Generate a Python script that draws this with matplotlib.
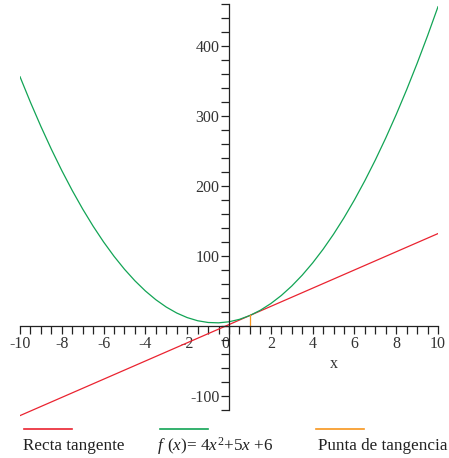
import numpy as np
import matplotlib
matplotlib.use("Agg")
import matplotlib.pyplot as plt
from matplotlib.lines import Line2D
from matplotlib.ticker import MultipleLocator

plt.rcParams['font.family'] = ['Liberation Serif', 'DejaVu Serif']
plt.rcParams['mathtext.fontset'] = 'custom'
plt.rcParams['mathtext.rm'] = 'Liberation Serif'
plt.rcParams['mathtext.it'] = 'Liberation Serif:italic'
plt.rcParams['axes.unicode_minus'] = False

# datos
x_curva = np.arange(-10, 10.5, 0.5)
y_curva = [356, 319.5, 285, 252.5, 222, 193.5, 167, 142.5, 120, 99.5,
           81, 64.5, 50, 37.5, 27, 18.5, 12, 7.5, 5, 4.5,
           6, 9.5, 15, 22.5, 32, 43.5, 57, 72.5, 90, 109.5,
           131, 154.5, 180, 207.5, 237, 268.5, 302, 337.5, 375, 414.5, 456]
x_recta = [-10, 10]
y_recta = [-128, 132]
x_punto = [1, 1]
y_punto = [0, 15]

etiquetas = ["Recta tangente", r"$f\;\,(x)$= 4$x^2$+5$x$ +6", "Punta de tangencia"]
rojo, verde, naranja = '#ea2330', '#12a455', '#f7961e'

fig = plt.figure(figsize=(4.49, 4.58), dpi=100)
ax = fig.add_axes([20/449, 0.0895, 418/449, 0.905])

ax.plot(x_recta, y_recta, color=rojo, lw=0.9)
ax.plot(x_curva, y_curva, color=verde, lw=0.9)
ax.plot(x_punto, y_punto, color=naranja, lw=0.9)

ax.set_xlim(-10, 10)
ax.set_ylim(-130, 462)

# ejes estilo Maple
for s in ['top', 'right']:
    ax.spines[s].set_visible(False)
ax.spines['left'].set_position(('data', 0))
ax.spines['bottom'].set_position(('data', 0))
ax.spines['left'].set_bounds(-120, 460)
ax.spines['bottom'].set_bounds(-10, 10)
for s in ['left', 'bottom']:
    ax.spines[s].set_linewidth(0.9)
    ax.spines[s].set_color('#222222')

ax.xaxis.set_major_locator(MultipleLocator(2))
ax.xaxis.set_minor_locator(MultipleLocator(0.5))
ax.yaxis.set_major_locator(MultipleLocator(100))
ax.yaxis.set_minor_locator(MultipleLocator(20))
ax.tick_params(which='both', direction='out', length=6, width=0.9, color='#222222',
               labelsize=11.5, labelcolor='#333333', pad=1)
ax.set_xticks(range(-10, 11, 2))
ax.set_xticklabels([str(v) for v in range(-10, 11, 2)])
ax.set_yticks([-100, 100, 200, 300, 400])
for lab in ax.get_xticklabels():
    if lab.get_text() == '0':
        lab.set_ha('right')

ax.text(5, -55, 'x', fontsize=11.5, color='#333333', ha='center', va='center')

# leyenda
colores = [rojo, verde, naranja]
pos_linea = [24, 160, 316]
pos_texto = [23, 157, 318]
for c, xl, xt, lab in zip(colores, pos_linea, pos_texto, etiquetas):
    fig.add_artist(Line2D([xl/449, (xl + 48)/449], [1 - 429/458, 1 - 429/458],
                          color=c, lw=1.2))
    fig.text(xt/449, 1 - 446/458, lab, fontsize=12.3, color='#222222',
             ha='left', va='center')

fig.savefig('out.png', dpi=100)
